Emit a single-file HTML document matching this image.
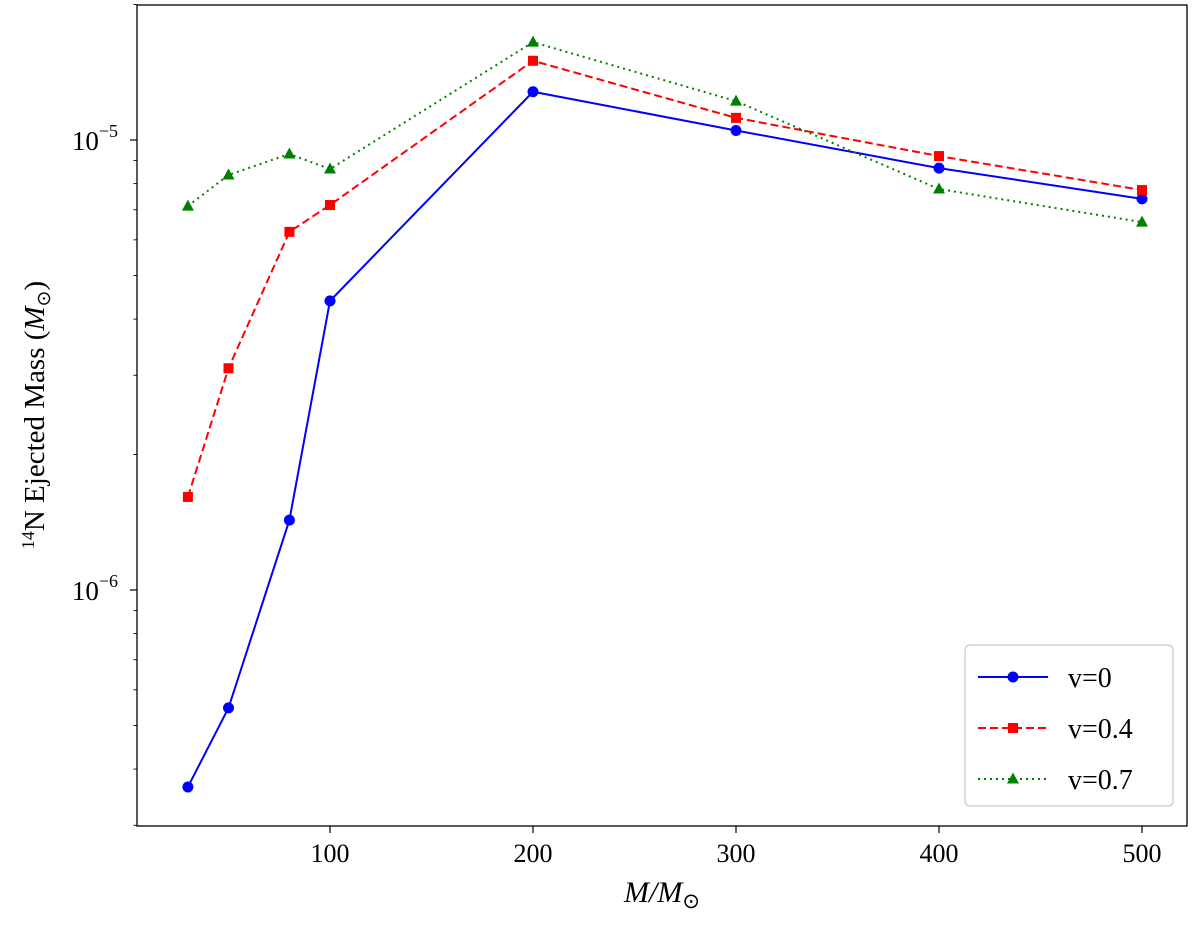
<!DOCTYPE html>
<html><head><meta charset="utf-8">
<style>
body{margin:0;background:#fff;}
svg text{font-family:"Liberation Serif",serif;fill:#000;}
</style></head>
<body>
<svg id="chart" width="1200" height="925" xmlns="http://www.w3.org/2000/svg">
<rect x="137" y="5" width="1050" height="821" fill="none" stroke="#000" stroke-width="1.3"/>
<g id="ticks"></g>
<g id="series"></g>
<text x="662" y="902" font-size="30" text-anchor="middle" font-style="italic">M/M<tspan font-style="normal" font-size="21" dy="6">⊙</tspan></text>
<text transform="translate(44,415) rotate(-90)" font-size="29" text-anchor="middle"><tspan font-size="18" dy="-10">14</tspan><tspan dy="10">N Ejected Mass (</tspan><tspan font-style="italic">M</tspan><tspan font-size="19" dy="6">⊙</tspan><tspan dy="-6">)</tspan></text>
<g>
<rect x="965" y="645" width="208" height="161" rx="5" fill="#fff" stroke="#ccc" stroke-width="1.3"/>
<g id="legend"></g>
</g>
</svg>
<script>
const masses=[30,50,80,100,200,300,400,500];
const v0=[3.65e-7,5.47e-7,1.43e-6,4.39e-6,1.28e-5,1.05e-5,8.66e-6,7.4e-6];
const v04=[1.61e-6,3.11e-6,6.25e-6,7.17e-6,1.5e-5,1.12e-5,9.21e-6,7.74e-6];
const v07=[7.13e-6,8.36e-6,9.31e-6,8.62e-6,1.65e-5,1.22e-5,7.78e-6,6.57e-6];
const xTicks=[100,200,300,400,500];
const yMajor=[-6,-5];
const NS="http://www.w3.org/2000/svg";
function X(v){return 330+(v-100)*2.03;}
function Y(v){return 140-(Math.log10(v)+5)*450;}
function mk(tag,attrs,parent){const e=document.createElementNS(NS,tag);for(const k in attrs)e.setAttribute(k,attrs[k]);parent.appendChild(e);return e;}
const tk=document.getElementById('ticks');
xTicks.forEach(t=>{
  const l=mk('line',{x1:X(t),x2:X(t),y1:826,y2:833,stroke:'#000','stroke-width':1.2},tk);
  
  
  const tx=mk('text',{x:X(t),y:862,'font-size':26,'text-anchor':'middle'},tk);tx.textContent=t;
  
  
});
for(let d=-7;d<=-5;d++){for(let m=1;m<10;m++){
  const val=m*Math.pow(10,d);const y=Y(val);
  if(y<5-0.5||y>826.5)continue;
  const major=m===1;
  const l=mk('line',{x1:major?130:133.5,x2:137,y1:y,y2:y,stroke:'#000','stroke-width':major?1.2:0.9},tk);
  
  
}}
yMajor.forEach(d=>{
  const tx=mk('text',{x:118,y:Y(Math.pow(10,d))+10,'font-size':27,'text-anchor':'end'},tk);
  tx.innerHTML='10<tspan font-size="18" dy="-13">−'+(-d)+'</tspan>';
  
  
});
const series=[
 {name:'v=0',data:v0,color:'#0000ff',dash:'',marker:'circle'},
 {name:'v=0.4',data:v04,color:'#ff0000',dash:'8,4',marker:'square'},
 {name:'v=0.7',data:v07,color:'#008000',dash:'2,4',marker:'triangle'}];
const sg=document.getElementById('series');
function marker(type,x,y,c,p){
  let e;
  if(type==='circle')e=mk('circle',{cx:x,cy:y,r:5.5,fill:c},p);
  else if(type==='square')e=mk('rect',{x:x-5,y:y-5,width:10,height:10,fill:c},p);
  else e=mk('polygon',{points:`${x},${y-6.5} ${x-6},${y+4.5} ${x+6},${y+4.5}`,fill:c},p);
  return e;
}
series.forEach((s,i)=>{
  const pts=masses.map((m,j)=>X(m)+','+Y(s.data[j])).join(' ');
  const pl=mk('polyline',{points:pts,fill:'none',stroke:s.color,'stroke-width':2,'stroke-dasharray':s.dash},sg);
  
  
  masses.forEach((m,j)=>{
    const e=marker(s.marker,X(m),Y(s.data[j]),s.color,sg);
    
    
  });
  const lg=document.getElementById('legend');
  const ly=677+i*51;
  const ll=mk('line',{x1:978,x2:1048,y1:ly,y2:ly,stroke:s.color,'stroke-width':2,'stroke-dasharray':s.dash},lg);
  
  
  const lm=marker(s.marker,1013,ly,s.color,lg);
  
  
  const lt=mk('text',{x:1068,y:ly+10,'font-size':28},lg);lt.textContent=s.name;
  
  
});
</script>
</body></html>
